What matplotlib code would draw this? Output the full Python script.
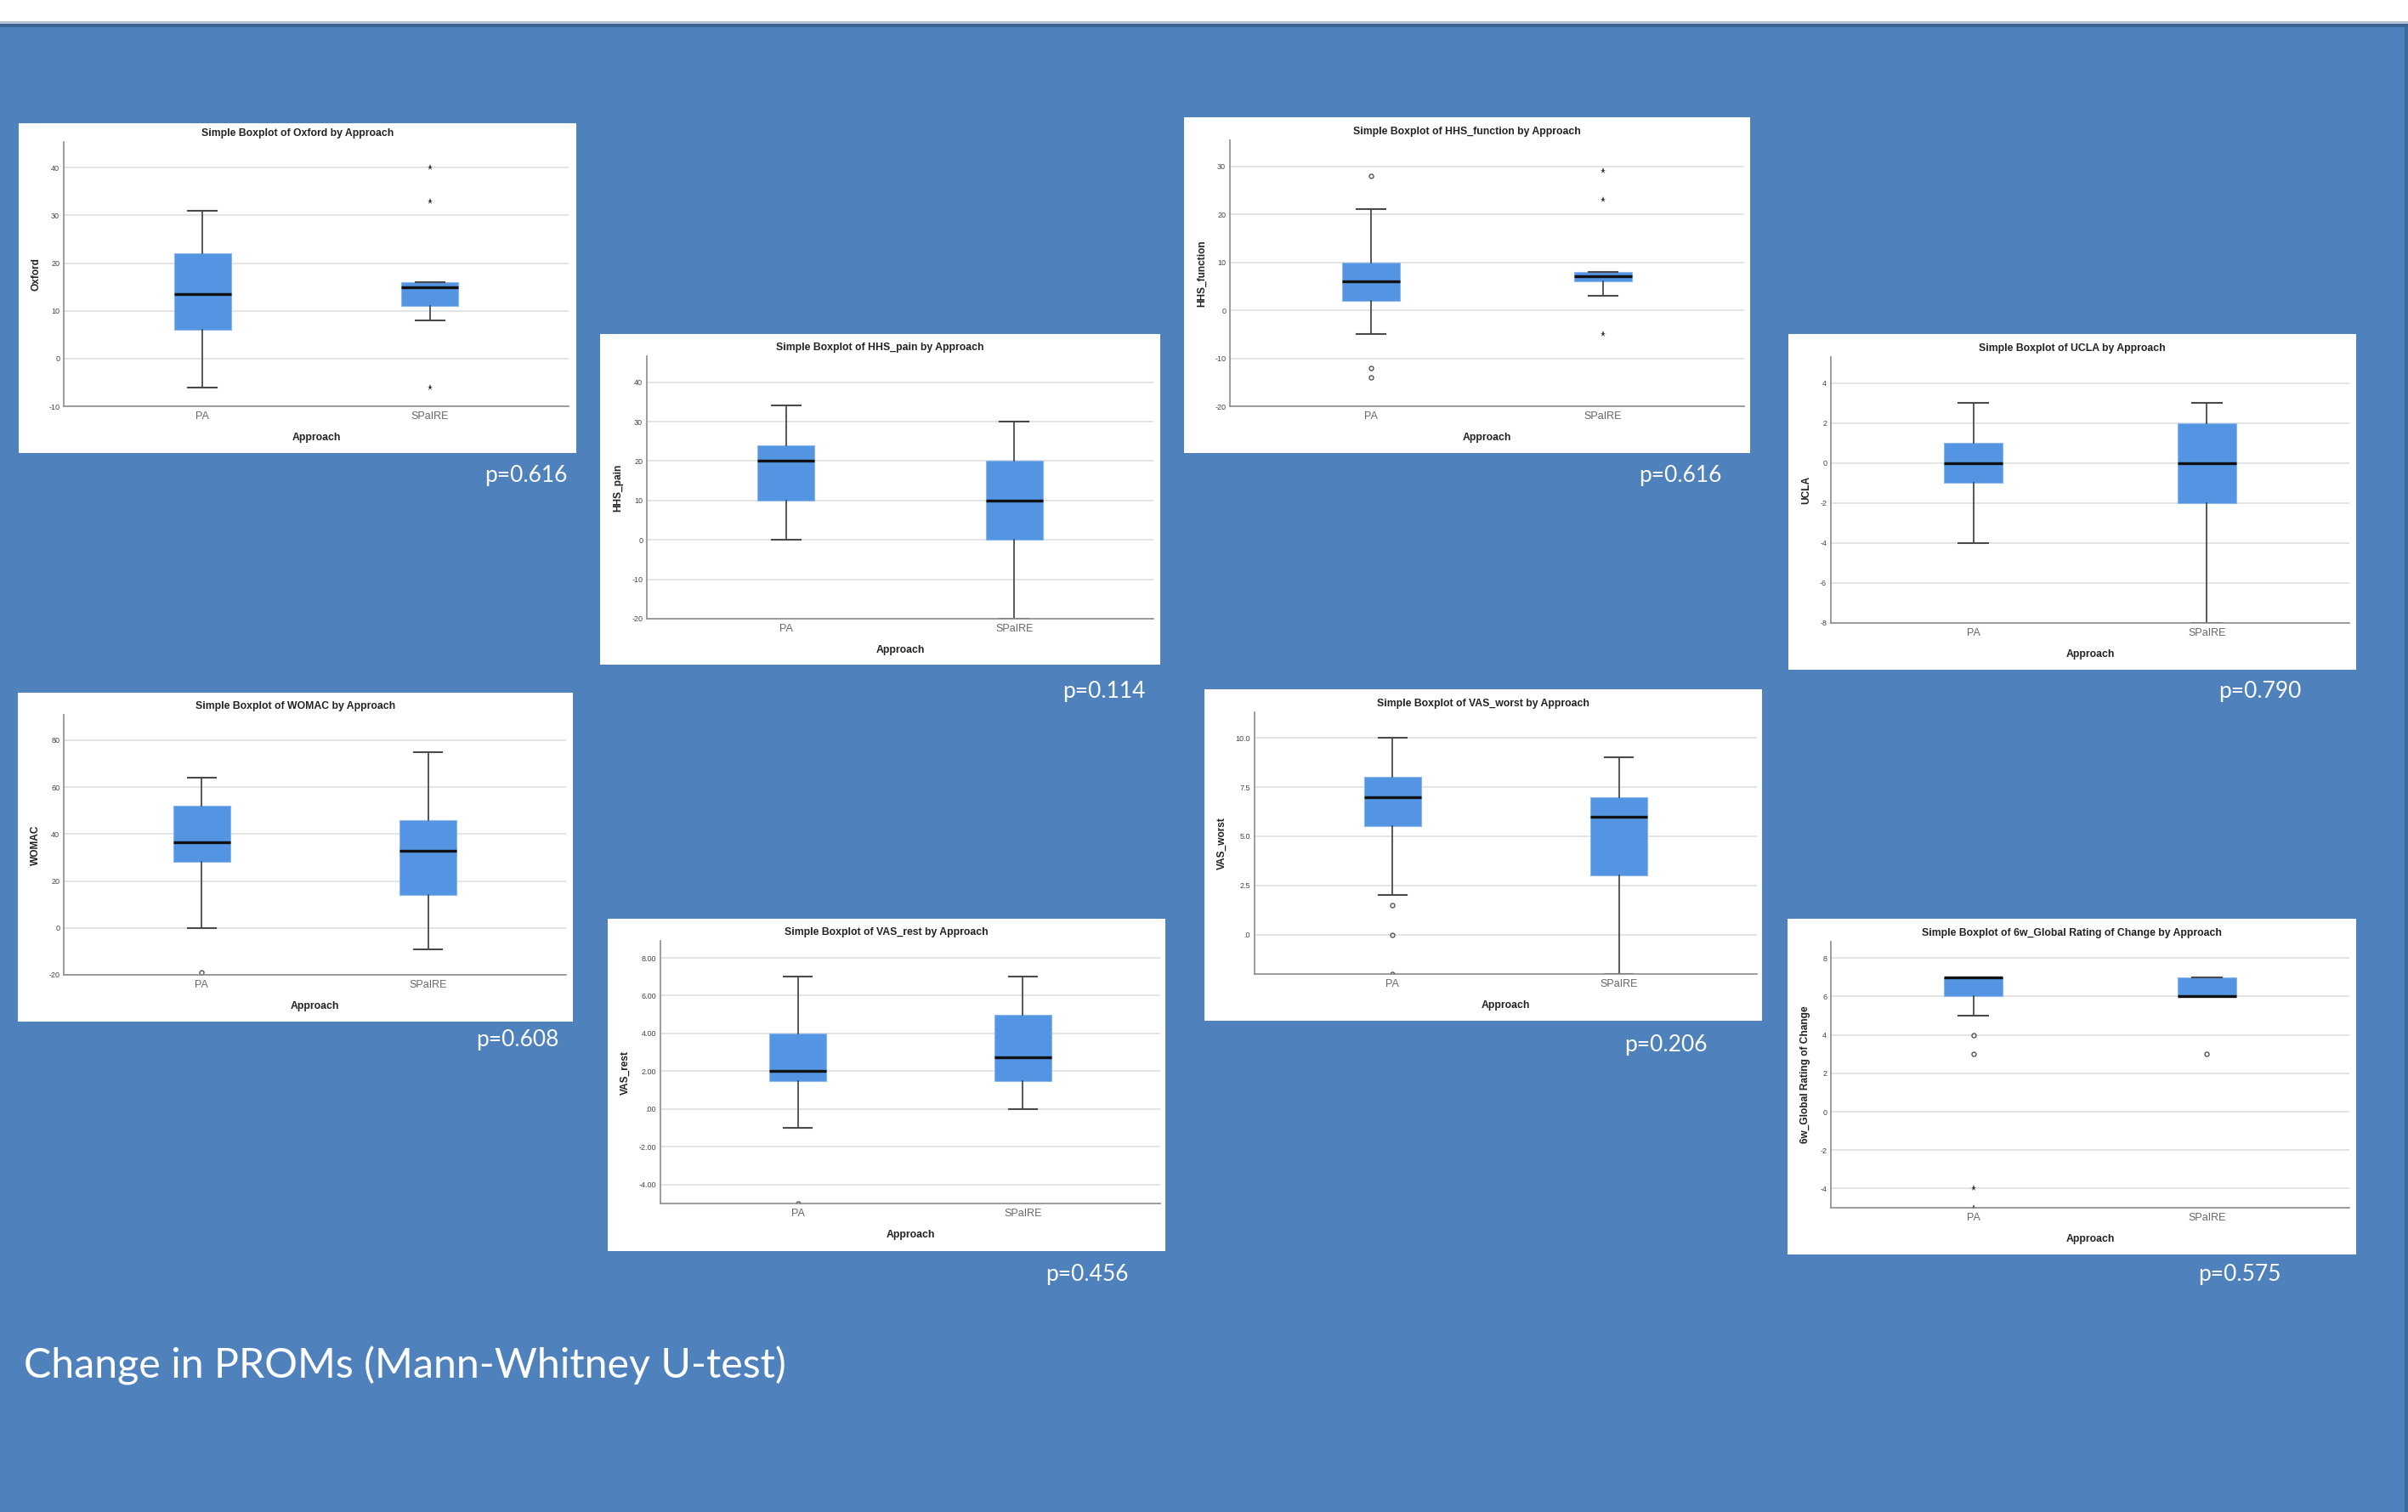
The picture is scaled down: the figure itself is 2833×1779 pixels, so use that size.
import matplotlib
matplotlib.use("Agg")
import matplotlib.pyplot as plt
from matplotlib.patches import Rectangle

W, H = 2833, 1779

measures = ["Oxford", "HHS_pain", "HHS_function", "UCLA",
            "WOMAC", "VAS_rest", "VAS_worst", "6w_Global Rating of Change"]
groups = ["PA", "SPaIRE"]
p_values = ["0.616", "0.114", "0.616", "0.790", "0.608", "0.456", "0.206", "0.575"]

# box statistics per measure, (PA, SPaIRE)
whis_lo = [(-6, 8), (0, -20), (-5, 3), (-4, -8), (0, -9), (-1, 0), (2, -2), (5, 6)]
q1 = [(6, 11), (10, 0), (2, 6), (-1, -2), (28, 14), (1.5, 1.5), (5.5, 3), (6, 6)]
med = [(13.5, 15), (20, 10), (6, 7), (0, 0), (36.5, 33), (2, 2.75), (7, 6), (7, 6)]
q3 = [(22, 16), (24, 20), (10, 8), (1, 2), (52, 46), (4, 5), (8, 7), (7, 7)]
whis_hi = [(31, 16), (34, 30), (21, 8), (3, 3), (64, 75), (7, 7), (10, 9), (7, 7)]

# SPSS: "o" = outlier, "*" = extreme
outliers = [([], []), ([], []), ([28, -12, -14], []), ([], []),
            ([-19], []), ([-5], []), ([1.5, 0, -2], []), ([4, 3], [3])]
extremes = [([], [40, 33, -6]), ([], []), ([], [29, 23, -5]), ([], []),
            ([], []), ([], []), ([], []), ([-4, -5], [])]

y_ticks = [[-10, 0, 10, 20, 30, 40],
           [-20, -10, 0, 10, 20, 30, 40],
           [-20, -10, 0, 10, 20, 30],
           [-8, -6, -4, -2, 0, 2, 4],
           [-20, 0, 20, 40, 60, 80],
           [-4, -2, 0, 2, 4, 6, 8],
           [0, 2.5, 5, 7.5, 10],
           [-4, -2, 0, 2, 4, 6, 8]]
y_decimals = [0, 0, 0, 0, 0, 2, 1, 0]
y_bottom = [-10, -20, -20, -8, -20, -5, -2, -5]
y_top = [45.4, 46.6, 35.4, 5.3, 90.8, 8.9, 11.3, 8.85]

# slide layout in pixels: white card, plot area, p-value anchor (right, middle)
cards = [(22, 145, 678, 533), (706, 393, 1365, 782), (1393, 138, 2059, 533),
         (2104, 393, 2772, 788), (21, 815, 674, 1202), (715, 1081, 1371, 1472),
         (1417, 811, 2073, 1201), (2103, 1081, 2772, 1476)]
plots = [(75, 167, 669, 478), (761, 419, 1357, 728), (1447, 165, 2052, 478),
         (2154, 420, 2764, 733), (75, 841, 666, 1147), (777, 1107, 1365, 1416),
         (1476, 838, 2067, 1146), (2154, 1108, 2764, 1421)]
p_anchor = [(667, 560), (1348, 813), (2026, 560), (2707, 813),
            (658, 1223), (1328, 1500), (2009, 1229), (2684, 1500)]

SLIDE = "#4F81BD"
BOX = "#5395E3"
SPSS_FONT = ["Liberation Sans", "DejaVu Sans"]


def fx(x):
    return x / W


def fy(y):
    return 1 - y / H


def rect(x0, y0, x1, y1, color, z=-1):
    fig.add_artist(Rectangle((fx(x0), fy(y1)), (x1 - x0) / W, (y1 - y0) / H,
                             transform=fig.transFigure, facecolor=color,
                             edgecolor="none", zorder=z))


def spss_label(v, d):
    s = f"{v:.{d}f}"
    if d > 0 and s.startswith("0"):
        s = s[1:]
    return s


fig = plt.figure(figsize=(W / 100, H / 100), dpi=100, facecolor=SLIDE)

# title strip and edge of the slide
rect(0, 0, W, 25, "white")
rect(0, 25, W, 27.5, "#B3C2D5")
rect(0, 27.5, W, 32, "#3C6595")
rect(2829, 32, W, H, "#3F6A9C")

for i, name in enumerate(measures):
    cx0, cy0, cx1, cy1 = cards[i]
    ax0, ay0, ax1, ay1 = plots[i]
    rect(cx0, cy0, cx1, cy1, "white")

    ax = fig.add_axes([fx(ax0), fy(ay1), (ax1 - ax0) / W, (ay1 - ay0) / H])
    ax.set_facecolor("white")

    stats = [dict(whislo=whis_lo[i][j], q1=q1[i][j], med=med[i][j],
                  q3=q3[i][j], whishi=whis_hi[i][j], fliers=[])
             for j in range(2)]
    ax.bxp(stats, positions=[1, 2], widths=0.25, capwidths=0.125,
           patch_artist=True, showfliers=False, manage_ticks=False,
           boxprops=dict(facecolor=BOX, edgecolor="#8AB6EC", lw=0.8),
           medianprops=dict(color="#111111", lw=2.4, solid_capstyle="butt"),
           whiskerprops=dict(color="#4A4A4A", lw=1.3),
           capprops=dict(color="#4A4A4A", lw=1.5))

    for j in range(2):
        if outliers[i][j]:
            ax.plot([j + 1] * len(outliers[i][j]), outliers[i][j], "o",
                    ms=3.6, mfc="none", mec="#555555", mew=1.0)
        if extremes[i][j]:
            ax.plot([j + 1] * len(extremes[i][j]), extremes[i][j], "*",
                    ms=5.2, color="#333333", mew=0)

    ax.set_xlim(0.39, 2.61)
    ax.set_ylim(y_bottom[i], y_top[i])
    ax.set_yticks(y_ticks[i])
    ax.set_yticklabels([spss_label(v, y_decimals[i]) for v in y_ticks[i]],
                       fontsize=6.5, color="#444444", family=SPSS_FONT)
    ax.set_xticks([1, 2])
    ax.set_xticklabels(groups, fontsize=9, color="#666666", family=SPSS_FONT)
    ax.tick_params(axis="x", length=0, pad=4.5)
    ax.tick_params(axis="y", length=0, pad=3.5)
    ax.yaxis.grid(True, color="#DDDDDD", lw=1.1)
    ax.set_axisbelow(True)
    for side in ["top", "right"]:
        ax.spines[side].set_visible(False)
    for side in ["left", "bottom"]:
        ax.spines[side].set_color("#8C8C8C")
        ax.spines[side].set_linewidth(1.2)
        ax.spines[side].set_zorder(3)

    fig.text(fx((cx0 + cx1) / 2), fy(ay0 - 10),
             f"Simple Boxplot of {name} by Approach",
             ha="center", va="center", fontsize=8.8, fontweight="bold",
             color="#222222", family=SPSS_FONT)
    fig.text(fx((ax0 + ax1) / 2), fy(ay1 + 37), "Approach",
             ha="center", va="center", fontsize=8.8, fontweight="bold",
             color="#222222", family=SPSS_FONT)
    fig.text(fx(cx0 + 21), fy((ay0 + ay1) / 2), name, rotation=90,
             ha="center", va="center", fontsize=8.6, fontweight="bold",
             color="#222222", family=SPSS_FONT)

    px, py = p_anchor[i]
    fig.text(fx(px), fy(py), f"p={p_values[i]}", ha="right", va="center",
             fontsize=19, color="white", family=["Lato", "DejaVu Sans"])

fig.text(fx(28), fy(1622), "Change in PROMs (Mann-Whitney U-test)",
         ha="left", va="baseline", fontsize=34.8, color="white",
         family=["Lato", "DejaVu Sans"])

fig.savefig("out.png", dpi=100, facecolor=fig.get_facecolor())
